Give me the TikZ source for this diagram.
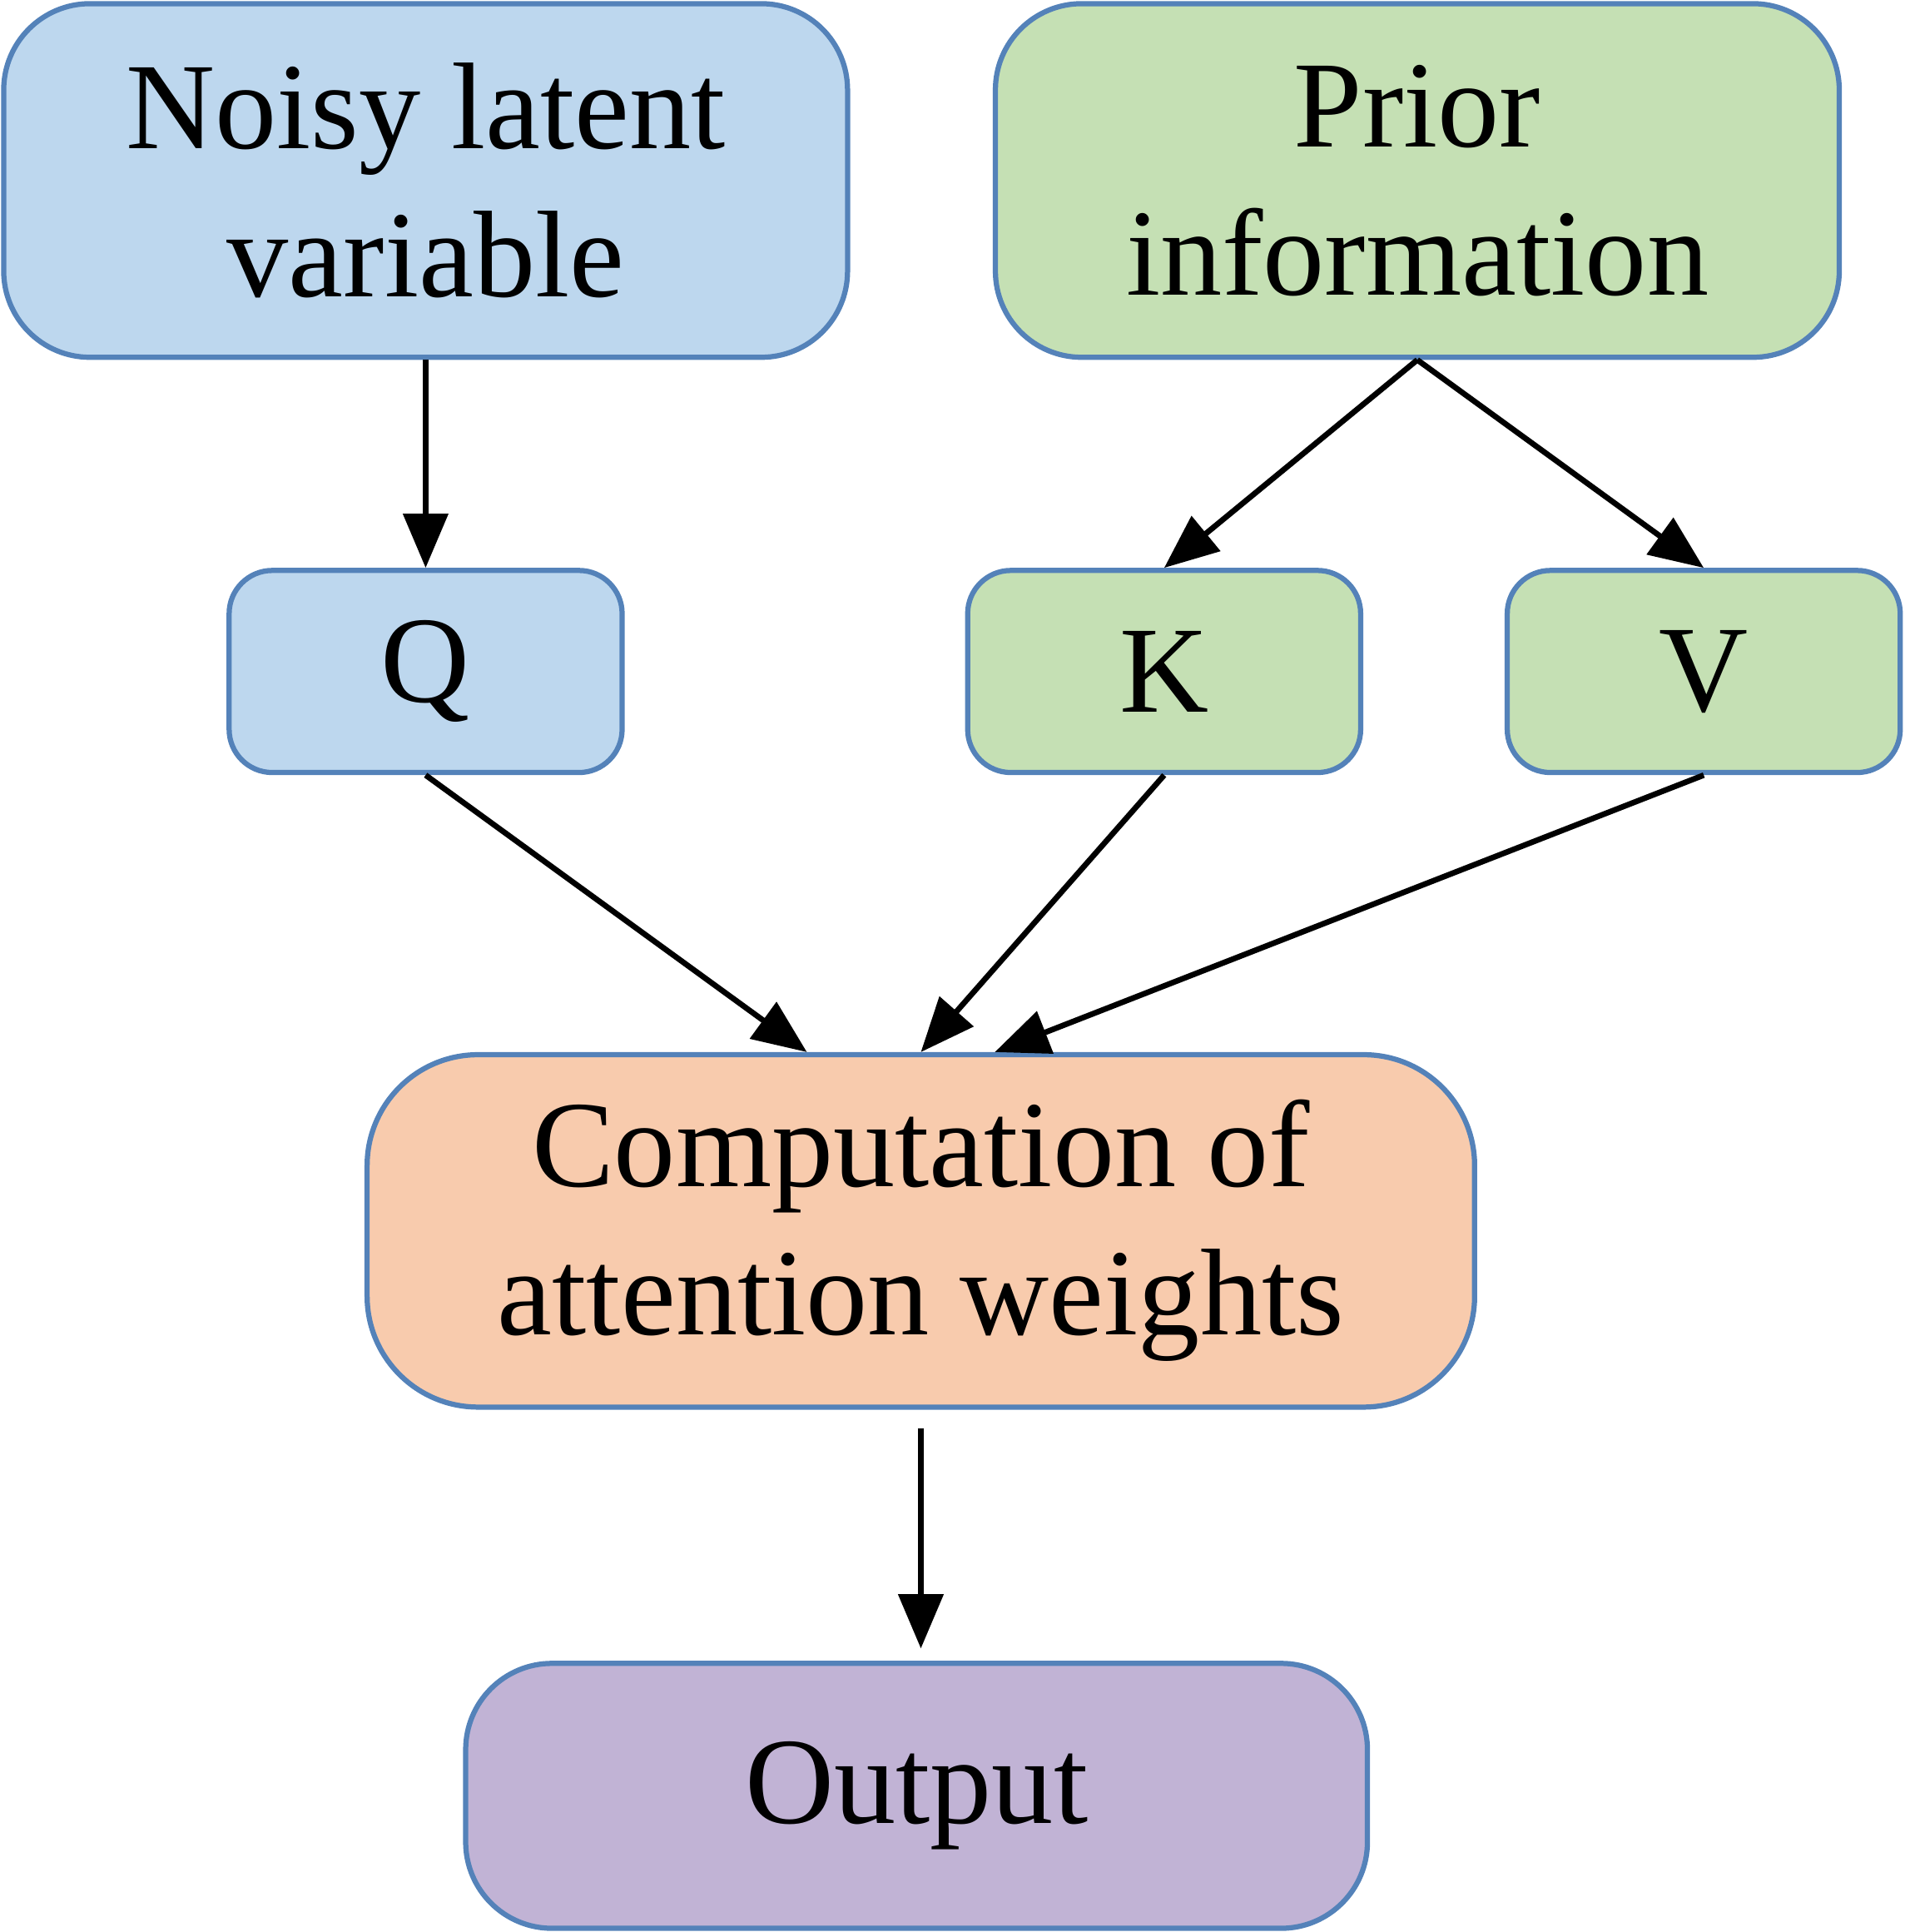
\documentclass[tikz,border=0pt]{standalone}
\usepackage{fontspec}
\setmainfont{Liberation Serif}
\usetikzlibrary{arrows.meta}
\definecolor{edgeblue}{RGB}{84,130,185}
\definecolor{qblue}{RGB}{189,215,238}
\definecolor{kvgreen}{RGB}{197,224,180}
\definecolor{attorange}{RGB}{248,203,173}
\definecolor{outpurple}{RGB}{193,179,213}
\tikzset{
  box/.style={draw=edgeblue, line width=1.2pt, align=center, inner sep=0pt,
    font=\fontsize{28.5}{34.2}\selectfont},
  bigbox/.style={box, minimum width=6.85cm, minimum height=2.87cm, rounded corners=0.7cm},
  smallbox/.style={box, minimum width=3.19cm, minimum height=1.64cm, rounded corners=0.35cm},
  arrow/.style={line width=1.3pt, -{Triangle[length=0.44cm, width=0.36cm]}}
}
\begin{document}
\begin{tikzpicture}
      \useasboundingbox (0, 0) rectangle (15.46, 15.68);
      \node [bigbox, fill=qblue] (noisy) at (3.455, 14.215) {Noisy latent\\variable};
      \node [bigbox, fill=kvgreen] (prior) at (11.505, 14.215) {Prior\\information};
      \node [smallbox, fill=qblue] (q) at (3.455, 10.23) {Q};
      \node [smallbox, fill=kvgreen] (k) at (9.45, 10.23) {K};
      \node [smallbox, fill=kvgreen] (v) at (13.83, 10.23) {V};
      \node [box, fill=attorange, minimum width=8.99cm, minimum height=2.86cm, rounded corners=0.9cm] (comp) at (7.475, 5.69) {Computation of\\attention weights};
      \node [box, fill=outpurple, minimum width=7.32cm, minimum height=2.15cm, rounded corners=0.7cm] (out) at (7.44, 1.105) {Output};
      \draw [arrow] (noisy.south) -- (q.north);
      \draw [arrow] (prior.south) -- (k.north);
      \draw [arrow] (prior.south) -- (v.north);
      \draw [arrow] (q.south) -- ([xshift=-0.925cm]comp.north);
      \draw [arrow] (k.south) -- (comp.north);
      \draw [arrow] (v.south) -- ([xshift=0.6cm]comp.north);
      \draw [arrow] ([yshift=-0.15cm]comp.south) -- ([yshift=0.1cm]comp.south |- out.north);
    \end{tikzpicture}
\end{document}
